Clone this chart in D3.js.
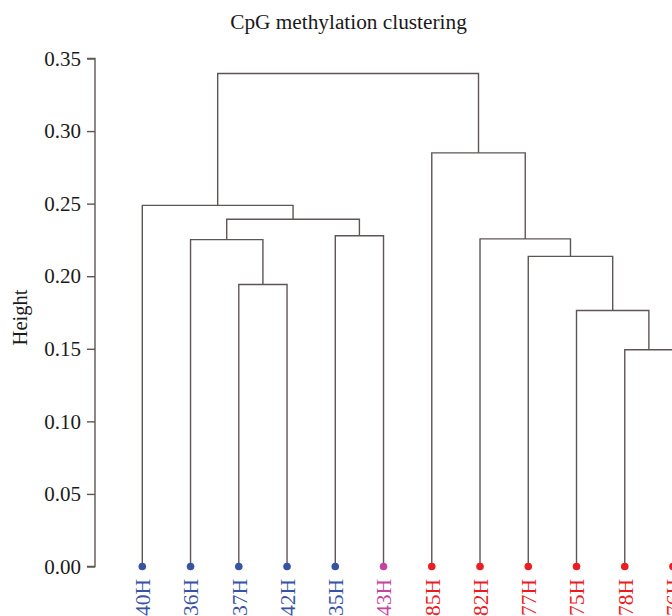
<!DOCTYPE html>
<html>
<head>
<meta charset="utf-8">
<script src="https://cdn.jsdelivr.net/npm/d3@7/dist/d3.min.js"></script>
<style>
  html, body { margin: 0; padding: 0; background: #fff; overflow: hidden; }
  svg { display: block; }
  text { font-family: "Liberation Serif", "DejaVu Serif", serif; }
</style>
</head>
<body>
<svg id="chart" width="672" height="616"></svg>
<script>
// ---- data ----
const title = "CpG methylation clustering";
const yLabel = "Height";
const leafLabels = ["40H", "36H", "37H", "42H", "35H", "43H", "85H", "82H", "77H", "75H", "78H", "76H"];
const leafGroups = ["A", "A", "A", "A", "A", "B", "C", "C", "C", "C", "C", "C"];
// merges: left / right child (leaf label or index of earlier merge) and height
const mergeLeft   = ["78H", "75H", "37H", "77H", "36H", "82H", "35H", 4, "40H", "85H", 8];
const mergeRight  = ["76H", 0,     "42H", 1,     2,     3,     "43H", 6, 7,     5,     9];
const mergeHeight = [0.1493, 0.1764, 0.1943, 0.2137, 0.2252, 0.2257, 0.2279, 0.2392, 0.2488, 0.2850, 0.3397];
const yTicks = [0.00, 0.05, 0.10, 0.15, 0.20, 0.25, 0.30, 0.35];

// ---- styles ----
const groupColor = { A: "#3953a4", B: "#c2459e", C: "#ec1c24" };
const lineColor = "#5e5654";

const svg = d3.select("#chart");

const x = d3.scalePoint().domain(leafLabels).range([142.3, 673]);
const y = d3.scaleLinear().domain([0, 0.35]).range([566.5, 58.5]);

// compute node positions
const nodes = mergeHeight.map(() => null);
function pos(ref) {
  if (typeof ref === "string") return { x: x(ref), h: 0 };
  return nodes[ref];
}
mergeHeight.forEach((h, i) => {
  const a = pos(mergeLeft[i]), b = pos(mergeRight[i]);
  nodes[i] = { x: (a.x + b.x) / 2, h: h, a: a, b: b };
});

// dendrogram segments
const g = svg.append("g")
  .attr("fill", "none")
  .attr("stroke", lineColor)
  .attr("stroke-width", 1.4);
nodes.forEach(n => {
  const p = d3.path();
  p.moveTo(n.a.x, y(n.a.h));
  p.lineTo(n.a.x, y(n.h));
  p.lineTo(n.b.x, y(n.h));
  p.lineTo(n.b.x, y(n.b.h));
  g.append("path").attr("d", p.toString());
});

// leaf dots
svg.append("g").selectAll("circle")
  .data(leafLabels)
  .join("circle")
  .attr("cx", d => x(d))
  .attr("cy", y(0))
  .attr("r", 3.8)
  .attr("fill", (d, i) => groupColor[leafGroups[i]]);

// leaf labels
svg.append("g").selectAll("text")
  .data(leafLabels)
  .join("text")
  .attr("transform", d => `translate(${x(d)},579) rotate(-90)`)
  .attr("dy", "0.36em")
  .attr("text-anchor", "end")
  .attr("font-size", 21.5)
  .attr("fill", (d, i) => groupColor[leafGroups[i]])
  .text(d => d);

// y axis
const axis = svg.append("g")
  .attr("transform", "translate(95,0)")
  .call(d3.axisLeft(y).tickValues(yTicks).tickFormat(d3.format(".2f")).tickSize(8).tickPadding(6));
axis.select(".domain").attr("stroke", lineColor).attr("stroke-width", 1.4).attr("d", `M-8,${y(0.35)}H0V${y(0)}H-8`);
axis.selectAll(".tick line").attr("stroke", lineColor).attr("stroke-width", 1.4);
axis.selectAll(".tick text")
  .attr("font-family", "Liberation Serif, DejaVu Serif, serif")
  .attr("font-size", 21)
  .attr("fill", "#1a1a1a");

// axis title
svg.append("text")
  .attr("transform", `translate(27,${(y(0) + y(0.35)) / 2 + 5}) rotate(-90)`)
  .attr("text-anchor", "middle")
  .attr("font-size", 20.5)
  .attr("fill", "#1a1a1a")
  .text(yLabel);

// chart title
svg.append("text")
  .attr("x", 348.5)
  .attr("y", 29)
  .attr("text-anchor", "middle")
  .attr("font-size", 21.3)
  .attr("fill", "#1a1a1a")
  .text(title);
</script>
</body>
</html>
